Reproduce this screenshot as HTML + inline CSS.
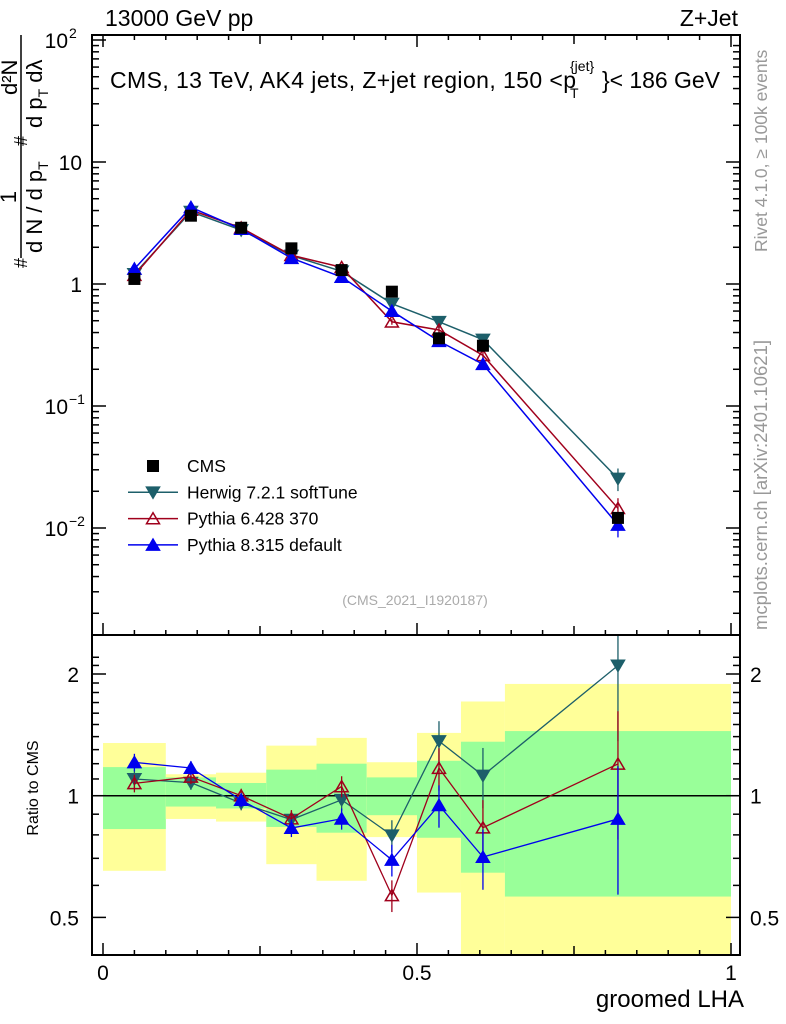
<!DOCTYPE html>
<html><head><meta charset="utf-8"><style>
body{margin:0;background:#fff}
svg{display:block;font-family:"Liberation Sans",sans-serif}
</style></head><body>
<svg id="s" width="786" height="1024" viewBox="0 0 786 1024">
<g id="bands"></g><g id="marks"></g><g id="axes"></g>
<text x="105" y="26" font-size="23">13000 GeV pp</text>
<text x="738" y="26" font-size="23" text-anchor="end">Z+Jet</text>
<text x="110" y="88" font-size="23" textLength="466">CMS, 13 TeV, AK4 jets, Z+jet region, 150 &lt;p</text>
<text x="570" y="71" font-size="14">{jet}</text>
<text x="570" y="98" font-size="14">T</text>
<text x="602" y="88" font-size="23" textLength="118">}&lt; 186 GeV</text>
<text x="415" y="605" font-size="14" fill="#aaa" text-anchor="middle">(CMS_2021_I1920187)</text>
<text x="744" y="1007" font-size="24" text-anchor="end">groomed LHA</text>
<text transform="translate(38,788) rotate(-90)" font-size="16" text-anchor="middle">Ratio to CMS</text>
<g font-size="22">
<line x1="21" y1="35" x2="21" y2="258" stroke="#000" stroke-width="1.5"/>
<text transform="translate(17,95) rotate(-90)">d²N</text>
<text transform="translate(16,197) rotate(-90)" text-anchor="middle">1</text>
<text transform="translate(27,146) rotate(-90)" font-size="18">#</text>
<text transform="translate(27,268) rotate(-90)" font-size="18">#</text>
<text transform="translate(42,253) rotate(-90)">d N / d p<tspan font-size="14" dy="6">T</tspan></text>
<text transform="translate(42,128) rotate(-90)">d p<tspan font-size="14" dy="6">T</tspan><tspan dy="-6"> dλ</tspan></text>
</g>
<text transform="translate(767,252) rotate(-90)" font-size="17.5" fill="#999">Rivet 4.1.0, ≥ 100k events</text>
<text transform="translate(767,630) rotate(-90)" font-size="18.5" fill="#999">mcplots.cern.ch [arXiv:2401.10621]</text>
<g id="legend"></g>
</svg>
<script>
const edges=[0,0.1,0.18,0.26,0.34,0.42,0.5,0.57,0.64,1.0];
const xs=[0.05,0.14,0.22,0.30,0.38,0.46,0.535,0.605,0.82];
const cms=[1.1,3.63,2.89,1.96,1.3,0.865,0.359,0.312,0.0121];
const herwig=[1.21,3.91,2.77,1.71,1.27,0.69,0.49,0.35,0.0254];
const py6=[1.18,4.04,2.89,1.72,1.37,0.49,0.42,0.26,0.0145];
const py8=[1.33,4.25,2.82,1.63,1.14,0.60,0.34,0.22,0.0106];
const relErr=[0.05,0.04,0.04,0.05,0.06,0.09,0.12,0.17,0.35];
const yelHi=[1.35,1.13,1.14,1.33,1.39,1.21,1.43,1.71,1.89];
const yelLo=[0.652,0.876,0.863,0.677,0.616,0.79,0.576,0.3,0.3];
const grnHi=[1.177,1.11,1.075,1.16,1.2,1.11,1.22,1.36,1.445];
const grnLo=[0.827,0.94,0.93,0.837,0.81,0.895,0.787,0.645,0.563];
const NS='http://www.w3.org/2000/svg';
const X=v=>103+628*v;
const Y=v=>284-122*Math.log10(v);
const R=v=>795.7-121.7*Math.log2(v);
function mk(p,t,a){const e=document.createElementNS(NS,t);for(const k in a)e.setAttribute(k,a[k]);p.appendChild(e);return e;}
const bands=document.getElementById('bands'),marks=document.getElementById('marks'),axes=document.getElementById('axes');
const clampR=v=>Math.min(955,Math.max(636,R(v)));
for(let i=0;i<9;i++){
 let y=mk(bands,'rect',{x:X(edges[i]),width:X(edges[i+1])-X(edges[i]),y:clampR(yelHi[i]),height:clampR(yelLo[i])-clampR(yelHi[i]),fill:'#ffff99'});
 
 
 let g=mk(bands,'rect',{x:X(edges[i]),width:X(edges[i+1])-X(edges[i]),y:clampR(grnHi[i]),height:clampR(grnLo[i])-clampR(grnHi[i]),fill:'#99ff99'});
 
 
}
mk(bands,'line',{x1:92,x2:740,y1:R(1),y2:R(1),stroke:'#000','stroke-width':1.5});
function tri(p,x,y,down,col,fill){const s=6.5;const pts=down?`${x-s},${y-s*0.8} ${x+s},${y-s*0.8} ${x},${y+s*0.9}`:`${x-s},${y+s*0.8} ${x+s},${y+s*0.8} ${x},${y-s*0.9}`;return mk(p,'polygon',{points:pts,fill:fill,stroke:col,'stroke-width':1.5});}
const series=[{n:'herwig',d:herwig,c:'#1d5f6a',down:true,fill:'#1d5f6a'},{n:'pythia6',d:py6,c:'#a0001c',down:false,fill:'none'},{n:'pythia8',d:py8,c:'#0000ee',down:false,fill:'#0000ee'}];
series.forEach(s=>{
 const g=mk(marks,'g',{});
 
 
 mk(g,'polyline',{points:xs.map((x,i)=>X(x)+','+Y(s.d[i])).join(' '),fill:'none',stroke:s.c,'stroke-width':1.5});
 mk(g,'polyline',{points:xs.map((x,i)=>X(x)+','+R(s.d[i]/cms[i])).join(' '),fill:'none',stroke:s.c,'stroke-width':1.3});
 xs.forEach((x,i)=>{
  const v=s.d[i],e=relErr[i]*0.6;
  mk(g,'line',{x1:X(x),x2:X(x),y1:Y(v*(1+e)),y2:Y(v*(1-e)),stroke:s.c,'stroke-width':1.3});
  const r=v/cms[i];
  mk(g,'line',{x1:X(x),x2:X(x),y1:Math.max(636,R(r*(1+relErr[i]))),y2:R(r*(1-relErr[i])),stroke:s.c,'stroke-width':1.3});
  const m=tri(g,X(x),Y(v),s.down,s.c,s.fill);
  
  
  const m2=tri(g,X(x),R(r),s.down,s.c,s.fill);
  
  
 });
});
xs.forEach((x,i)=>{
 const r=mk(marks,'rect',{x:X(x)-6,y:Y(cms[i])-6,width:12,height:12,fill:'#000'});
 
 
});
mk(axes,'rect',{x:92,y:35,width:648,height:600,fill:'none',stroke:'#000','stroke-width':2});
mk(axes,'rect',{x:92,y:635,width:648,height:320,fill:'none',stroke:'#000','stroke-width':2});
for(let k=0;k<=20;k++){const v=k/20,maj=k%10==0,mid=k%5==0;const L=maj?12:(mid?9:5);
 [955,635].forEach(b=>mk(axes,'line',{x1:X(v),x2:X(v),y1:b,y2:b-L,stroke:'#000','stroke-width':1.5}));
 mk(axes,'line',{x1:X(v),x2:X(v),y1:35,y2:35+L,stroke:'#000','stroke-width':1.5});}
[['0',0],['0.5',0.5],['1',1]].forEach(([t,v])=>{const e=mk(axes,'text',{x:X(v),y:980,'font-size':21,'text-anchor':'middle'});e.textContent=t;});
for(let d=-3;d<2;d++)for(let m=1;m<10;m++){const v=m*Math.pow(10,d);const y=Y(v);if(y<35||y>635)continue;const L=m==1?14:7;
 mk(axes,'line',{x1:92,x2:92+L,y1:y,y2:y,stroke:'#000','stroke-width':1.5});mk(axes,'line',{x1:740,x2:740-L,y1:y,y2:y,stroke:'#000','stroke-width':1.5});}
mk(axes,'line',{x1:92,x2:106,y1:Y(100),y2:Y(100),stroke:'#000','stroke-width':1.5});
const yl=[[100,'10','2'],[10,'10',''],[1,'1',''],[0.1,'10','−1'],[0.01,'10','−2']];
yl.forEach(([v,b,p])=>{const e=mk(axes,'text',{x:p?68:82,y:Y(v)+8,'font-size':21,'text-anchor':'end'});e.textContent=b;if(p){const t=mk(axes,'text',{x:69,y:Y(v)-2,'font-size':14});t.textContent=p;}});
for(let v=0.4;v<=2.3;v+=0.1){const y=R(v);if(y<636||y>955)continue;const maj=Math.abs(v-0.5)<1e-6||Math.abs(v-1)<1e-6||Math.abs(v-2)<1e-6;const L=maj?14:7;
 mk(axes,'line',{x1:92,x2:92+L,y1:y,y2:y,stroke:'#000','stroke-width':1.5});mk(axes,'line',{x1:740,x2:740-L,y1:y,y2:y,stroke:'#000','stroke-width':1.5});}
[['2',2],['1',1],['0.5',0.5]].forEach(([t,v])=>{[[79,'end'],[750,'start']].forEach(([x,a])=>{const e=mk(axes,'text',{x:x,y:R(v)+8,'font-size':21,'text-anchor':a});e.textContent=t;});});
const lg=document.getElementById('legend');
const items=[['CMS',null],['Herwig 7.2.1 softTune',series[0]],['Pythia 6.428 370',series[1]],['Pythia 8.315 default',series[2]]];
items.forEach(([t,s],i)=>{const y=466+i*26.3;const g=mk(lg,'g',{});
 
 
 if(!s)mk(g,'rect',{x:147,y:y-6,width:12,height:12,fill:'#000'});
 else{mk(g,'line',{x1:128,x2:178,y1:y,y2:y,stroke:s.c,'stroke-width':1.5});tri(g,153,y,s.down,s.c,s.fill);}
 const e=mk(g,'text',{x:187,y:y+6,'font-size':17.5});e.textContent=t;});
</script>
</body></html>
